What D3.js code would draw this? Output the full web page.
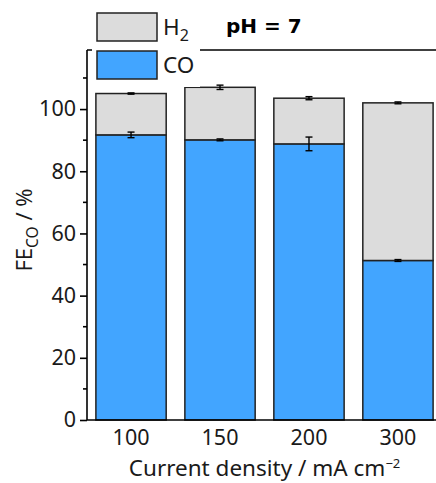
<!DOCTYPE html>
<html>
<head>
<meta charset="utf-8">
<script src="https://cdn.jsdelivr.net/npm/d3@7"></script>
<style>
  body { margin: 0; background: #fff; }
  svg { display: block; font-family: "Noto Sans", "Open Sans", sans-serif; }
</style>
</head>
<body>
<svg id="chart" width="436" height="483"></svg>
<script>
// data
var densities = ["100", "150", "200", "300"];
var feCO = [91.7, 90.1, 88.8, 51.3];
var feCOErr = [0.9, 0.3, 2.2, 0.3];
var feH2 = [13.3, 16.9, 14.7, 50.7];
var totalErr = [0.2, 0.7, 0.5, 0.3];
var yMajor = [0, 20, 40, 60, 80, 100];
var yMinor = [10, 30, 50, 70, 90, 110];

var margin = {top: 50, left: 87, bottom: 420, right: 442};
var blue = "#42a5ff", grey = "#dcdcdc";
var textCol = "#1a1a1a";

var svg = d3.select("#chart");

var x = d3.scaleBand().domain(densities)
    .range([margin.left, margin.right])
    .paddingInner(0.21).paddingOuter(0.1);
var y = d3.scaleLinear().domain([0, 119]).range([margin.bottom, margin.top]);

var rows = densities.map(function (d, i) {
    return {cat: d, co: feCO[i], h2: feH2[i], coErr: feCOErr[i], totErr: totalErr[i]};
});
var series = d3.stack().keys(["co", "h2"])(rows);
var fills = {co: blue, h2: grey};

// stacked bars
series.forEach(function (s) {
    svg.append("g").selectAll("rect")
        .data(s)
        .enter().append("rect")
        .attr("x", function (d) { return x(d.data.cat); })
        .attr("width", x.bandwidth())
        .attr("y", function (d) { return y(d[1]); })
        .attr("height", function (d) { return y(d[0]) - y(d[1]); })
        .attr("fill", fills[s.key])
        .attr("stroke", "#222")
        .attr("stroke-width", 1.5);
});

// error bars
function errBars(getVal, getErr) {
    var g = svg.append("g").attr("stroke", "#000").attr("stroke-width", 1.4);
    rows.forEach(function (d) {
        var cx = x(d.cat) + x.bandwidth() / 2;
        var v = getVal(d), e = getErr(d);
        g.append("line").attr("x1", cx).attr("x2", cx).attr("y1", y(v - e)).attr("y2", y(v + e));
        g.append("line").attr("x1", cx - 3.5).attr("x2", cx + 3.5).attr("y1", y(v - e)).attr("y2", y(v - e));
        g.append("line").attr("x1", cx - 3.5).attr("x2", cx + 3.5).attr("y1", y(v + e)).attr("y2", y(v + e));
    });
}
errBars(function (d) { return d.co; }, function (d) { return d.coErr; });
errBars(function (d) { return d.co + d.h2; }, function (d) { return d.totErr; });

// frame: top and bottom lines
svg.append("line").attr("x1", margin.left).attr("x2", margin.right)
    .attr("y1", margin.top).attr("y2", margin.top)
    .attr("stroke", "#000").attr("stroke-width", 1.6);
svg.append("line").attr("x1", margin.left).attr("x2", margin.right)
    .attr("y1", margin.bottom).attr("y2", margin.bottom)
    .attr("stroke", "#000").attr("stroke-width", 1.6);

// y axis
var yAxis = d3.axisLeft(y).tickValues(yMajor).tickSize(7).tickPadding(4);
var yg = svg.append("g").attr("transform", "translate(" + margin.left + ",0)").call(yAxis);
yg.select(".domain").attr("stroke-width", 1.6).attr("d", "M0," + margin.bottom + "V" + margin.top);
yg.selectAll(".tick line").attr("stroke-width", 1.6);
yg.selectAll(".tick text").attr("font-size", 21.5).attr("fill", textCol).attr("font-family", "Noto Sans");
yg.selectAll(".minor").data(yMinor).enter().append("line")
    .attr("class", "minor")
    .attr("x1", -4).attr("x2", 0)
    .attr("y1", function (d) { return y(d); }).attr("y2", function (d) { return y(d); })
    .attr("stroke", "#000").attr("stroke-width", 1.6);

// x axis labels (no tick marks)
var xAxis = d3.axisBottom(x).tickSize(0).tickPadding(10);
var xg = svg.append("g").attr("transform", "translate(0," + margin.bottom + ")").call(xAxis);
xg.select(".domain").remove();
xg.selectAll(".tick text").attr("font-size", 21.5).attr("fill", textCol).attr("font-family", "Noto Sans");

// axis titles
var xTitle = svg.append("text")
    .attr("x", (x("100") + x("300") + x.bandwidth()) / 2).attr("y", 476)
    .attr("text-anchor", "middle").attr("font-size", 22.5).attr("fill", textCol);
xTitle.append("tspan").text("Current density / mA cm");
xTitle.append("tspan").attr("dy", -8).attr("font-size", 13).text("\u22122");

var yTitle = svg.append("text")
    .attr("transform", "translate(32,230) rotate(-90)")
    .attr("text-anchor", "middle").attr("font-size", 22).attr("fill", textCol);
yTitle.append("tspan").text("FE");
yTitle.append("tspan").attr("dy", 6).attr("font-size", 15.5).text("CO");
yTitle.append("tspan").attr("dy", -6).text(" / %");

// legend with white background covering part of top frame
var legend = svg.append("g");
legend.append("rect").attr("x", 92).attr("y", 5).attr("width", 108).attr("height", 82).attr("fill", "#fff");
var legendItems = [{label: "H", sub: "2", fill: grey, y: 13}, {label: "CO", sub: "", fill: blue, y: 51}];
legendItems.forEach(function (it) {
    legend.append("rect").attr("x", 97).attr("y", it.y).attr("width", 60).attr("height", 28)
        .attr("fill", it.fill).attr("stroke", "#222").attr("stroke-width", 1.5);
    var t = legend.append("text").attr("x", 163).attr("y", it.y + 22)
        .attr("font-size", 22.5).attr("fill", textCol);
    t.append("tspan").text(it.label);
    if (it.sub) t.append("tspan").attr("dy", 6).attr("font-size", 16).text(it.sub);
});

// title
svg.append("text").attr("x", 226).attr("y", 33)
    .attr("font-family", "DejaVu Sans").attr("font-weight", "bold")
    .attr("font-size", 20).attr("fill", "#000").text("pH = 7");
</script>
</body>
</html>
